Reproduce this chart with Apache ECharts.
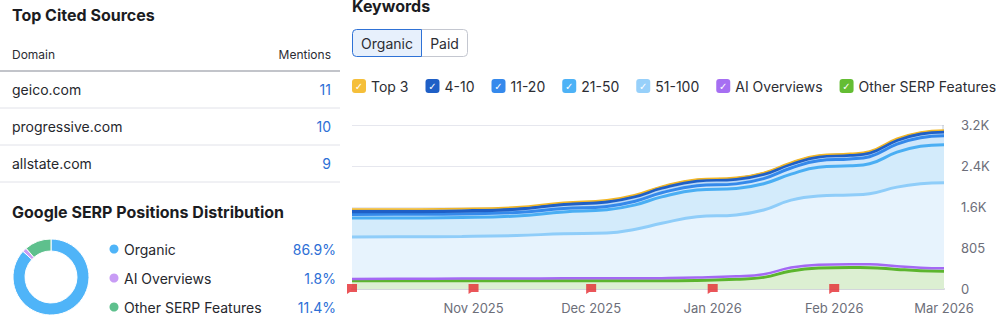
<!DOCTYPE html>
<html>
<head>
<meta charset="utf-8">
<script src="https://cdn.jsdelivr.net/npm/echarts@6/dist/echarts.min.js"></script>
<style>
html,body{margin:0;padding:0;background:#fff;}
#main{width:996px;height:329px;}
</style>
</head>
<body>
<div id="main"></div>
<script>
// ---- Data ----
const domains = ['geico.com', 'progressive.com', 'allstate.com'];
const mentions = [11, 10, 9];

const serpLabels = ['Organic', 'AI Overviews', 'Other SERP Features'];
const serpShares = [86.9, 1.8, 11.4];

const dates = ['2025-10-01','2025-10-15','2025-10-29','2025-11-12','2025-11-24','2025-12-05','2025-12-12','2025-12-19','2025-12-28','2026-01-07','2026-01-14','2026-01-21','2026-01-28','2026-02-05','2026-02-10','2026-02-17','2026-02-23','2026-03-01'];
const top3     = [50,50,49,46,41,39,37,35,33,33,33,33,33,33,34,35,35,35];
const pos4_10  = [55,55,56,65,85,92,94,96,98,96,90,82,78,78,78,79,79,79];
const pos11_20 = [72,72,72,70,66,66,72,80,85,90,100,120,130,135,140,160,170,174];
const pos21_50 = [372,370,371,384,428,455,477,519,524,521,517,510,563,573,588,686,736,746];
const pos51_100 = [1021,1025,1032,1050,1085,1100,1170,1290,1419,1453,1550,1745,1826,1845,1870,2000,2065,2087];
const aiOverviews = [38,40,42,44,46,48,50,53,56,58,62,66,68,68,66,62,58,56];
const otherSerp = [160,161,162,163,163,162,160,160,168,190,228,355,410,420,418,385,360,350];

const flagDates = ['2025-10-01','2025-11-01','2025-12-01','2026-01-01','2026-02-01'];
const xMin = '2025-10-01', xMax = '2026-03-01';
const yTicks = [0, 805, 1610, 2415, 3220];
const yTickLabels = ['0', '805', '1.6K', '2.4K', '3.2K'];
const legendNames = ['Top 3', '4-10', '11-20', '21-50', '51-100', 'AI Overviews', 'Other SERP Features'];
const bandRange = ['2026-02-28T12:00:00', '2026-03-01'];

// ---- Styles ----
const FONT = 'Inter, "Noto Sans", sans-serif';
const legendColors = ['#f5bf3a', '#1f5fc6', '#3589ec', '#4db2f6', '#97d0fa', '#a66ff2', '#64bd33'];
const donutColors = ['#4fb4f8', '#c89cf5', '#5ec08d'];
const blue = '#2d6fd6';

function pairs(vals) { return dates.map((d, i) => [d, vals[i]]); }

const g = [];
function txt(x, y, text, o) {
  g.push({type: 'text', x: x, y: y, silent: true, style: Object.assign({
    text: text, fill: '#222327', font: '14px ' + FONT, align: 'left', verticalAlign: 'middle'
  }, o || {})});
}
function hline(x1, x2, y, c, w) {
  g.push({type: 'line', silent: true, shape: {x1: x1, y1: y, x2: x2, y2: y}, style: {stroke: c, lineWidth: w || 1}});
}
// Left panel: table
txt(12, 15, 'Top Cited Sources', {font: 'bold 16px ' + FONT, fill: '#1b1c22'});
txt(12, 54, 'Domain', {font: '12px ' + FONT, fill: '#2b2c33'});
txt(331, 54, 'Mentions', {font: '12px ' + FONT, fill: '#2b2c33', align: 'right'});
hline(0, 340, 71, '#aeb0b9', 1.5);
domains.forEach((d, i) => {
  const y = 89 + i * 37;
  txt(12, y, d, {fill: '#26272d'});
  txt(331, y, String(mentions[i]), {fill: blue, align: 'right'});
  hline(0, 340, y + 19, '#e1e2e9', 1);
});
// Left panel: donut legend
txt(12, 212, 'Google SERP Positions Distribution', {font: 'bold 16px ' + FONT, fill: '#1b1c22'});
serpLabels.forEach((l, i) => {
  const y = 249 + i * 29;
  g.push({type: 'circle', silent: true, shape: {cx: 114, cy: y, r: 4.5}, style: {fill: donutColors[i]}});
  txt(124, y, l, {fill: '#26272d'});
  txt(336, y, serpShares[i].toFixed(1) + '%', {fill: blue, align: 'right'});
});
// Right panel header
txt(352, 6, 'Keywords', {font: 'bold 16px ' + FONT, fill: '#1b1c22'});
g.push({type: 'rect', silent: true, shape: {x: 421.5, y: 29.5, width: 46, height: 27, r: [0, 4, 4, 0]}, style: {fill: '#fff', stroke: '#c4c7d0', lineWidth: 1}});
g.push({type: 'rect', silent: true, shape: {x: 352.5, y: 29.5, width: 69, height: 27, r: [4, 0, 0, 4]}, style: {fill: '#e7f0fc', stroke: '#2f72d6', lineWidth: 1}});
txt(387, 43.5, 'Organic', {fill: '#2c2d33', align: 'center'});
txt(444.5, 43.5, 'Paid', {fill: '#2c2d33', align: 'center'});

// Legend rich styles
const rich = {t: {fontSize: 14, color: '#2c2d33', fontFamily: FONT, padding: [0, 0, 0, 5]}};
legendNames.forEach((n, i) => {
  rich['b' + i] = {width: 14, height: 14, lineHeight: 14, borderRadius: 3, backgroundColor: legendColors[i],
    color: '#fff', fontSize: 10, fontWeight: 'bold', align: 'center', fontFamily: '"DejaVu Sans", sans-serif'};
});

const areaSeries = (name, data, line, lw, fill) => ({
  name: name, type: 'line', stack: 'pos', data: pairs(data), smooth: 0.45, showSymbol: false, symbol: 'none',
  lineStyle: {color: line, width: lw}, itemStyle: {color: line}, areaStyle: {color: fill, opacity: 1},
  emphasis: {disabled: true}, silent: true
});

const xMinTs = echarts.time.parse(xMin).getTime();

const option = {
  animation: false,
  textStyle: {fontFamily: FONT},
  graphic: g,
  legend: {
    left: 347, top: 79, width: 700, padding: 0, icon: 'none', itemWidth: 0, itemHeight: 0, itemGap: 12,
    data: legendNames, selectedMode: false,
    formatter: n => '{b' + legendNames.indexOf(n) + '|✓}{t|' + n + '}',
    textStyle: {rich: rich}
  },
  grid: {left: 352, right: 52, top: 125, bottom: 40},
  xAxis: {
    type: 'time', min: xMin, max: xMax,
    minInterval: 28 * 86400000, maxInterval: 31 * 86400000,
    axisLine: {lineStyle: {color: '#d3d5dc', width: 2}},
    axisTick: {show: false},
    splitLine: {show: false},
    axisLabel: {
      formatter: v => (v <= xMinTs ? '' : echarts.time.format(v, '{MMM} {yyyy}', false)),
      color: '#6c6e79', fontSize: 13, margin: 12, showMinLabel: false, showMaxLabel: true
    }
  },
  yAxis: {
    type: 'value', position: 'right', min: yTicks[0], max: yTicks[yTicks.length - 1], interval: yTicks[1] - yTicks[0],
    axisLine: {show: false}, axisTick: {show: false},
    splitLine: {lineStyle: {color: '#e6e7ee', width: 1}},
    axisLabel: {color: '#6c6e79', fontSize: 13, margin: 17, formatter: v => yTickLabels[yTicks.indexOf(v)] ?? String(v)}
  },
  series: [
    areaSeries('51-100', pos51_100, '#8fcdf9', 3, '#e7f3fd'),
    areaSeries('21-50', pos21_50, '#4aaef3', 3, '#d3ebfb'),
    areaSeries('11-20', pos11_20, '#3589ea', 3, '#cfe7fb'),
    areaSeries('4-10', pos4_10, '#1f5fc6', 3.5, '#b9d8f6'),
    areaSeries('Top 3', top3, '#f2b624', 1.5, '#f6e2a8'),
    {
      name: 'Other SERP Features', type: 'line', stack: 'serp', data: pairs(otherSerp), smooth: 0.45, showSymbol: false, symbol: 'none',
      lineStyle: {color: '#5cb52e', width: 3}, itemStyle: {color: '#64bd33'}, areaStyle: {color: '#dcefd2', opacity: 1},
      emphasis: {disabled: true}, silent: true, z: 3
    },
    {
      name: 'AI Overviews', type: 'line', stack: 'serp', data: pairs(aiOverviews), smooth: 0.45, showSymbol: false, symbol: 'none',
      lineStyle: {color: '#a468f4', width: 2.5}, itemStyle: {color: '#a66ff2'},
      emphasis: {disabled: true}, silent: true, z: 4
    },
    {
      name: 'band', type: 'line', data: [], silent: true, z: 5,
      markArea: {silent: true, itemStyle: {color: 'rgba(160,175,190,0.35)'}, data: [[{xAxis: bandRange[0]}, {xAxis: bandRange[1]}]]}
    },
    {
      name: 'flags', type: 'scatter', data: flagDates.map(d => [d, 0]), clip: false, silent: true, z: 6,
      symbol: 'path://M0,0 L10,0 L10,8 L3,8 L0,10 Z', symbolSize: [10, 10],
      itemStyle: {color: '#e52b2f'}
    },
    {
      name: 'SERP distribution', type: 'pie', center: [51, 277], radius: [26, 38], startAngle: 90, clockwise: true,
      label: {show: false}, labelLine: {show: false}, silent: true, emphasis: {disabled: true},
      itemStyle: {borderColor: '#fff', borderWidth: 1},
      data: serpLabels.map((l, i) => ({name: l, value: serpShares[i], itemStyle: {color: donutColors[i]}}))
    }
  ]
};
const chart = echarts.init(document.getElementById('main'), null, {renderer: 'svg'});
chart.setOption(option);
</script>
</body>
</html>
